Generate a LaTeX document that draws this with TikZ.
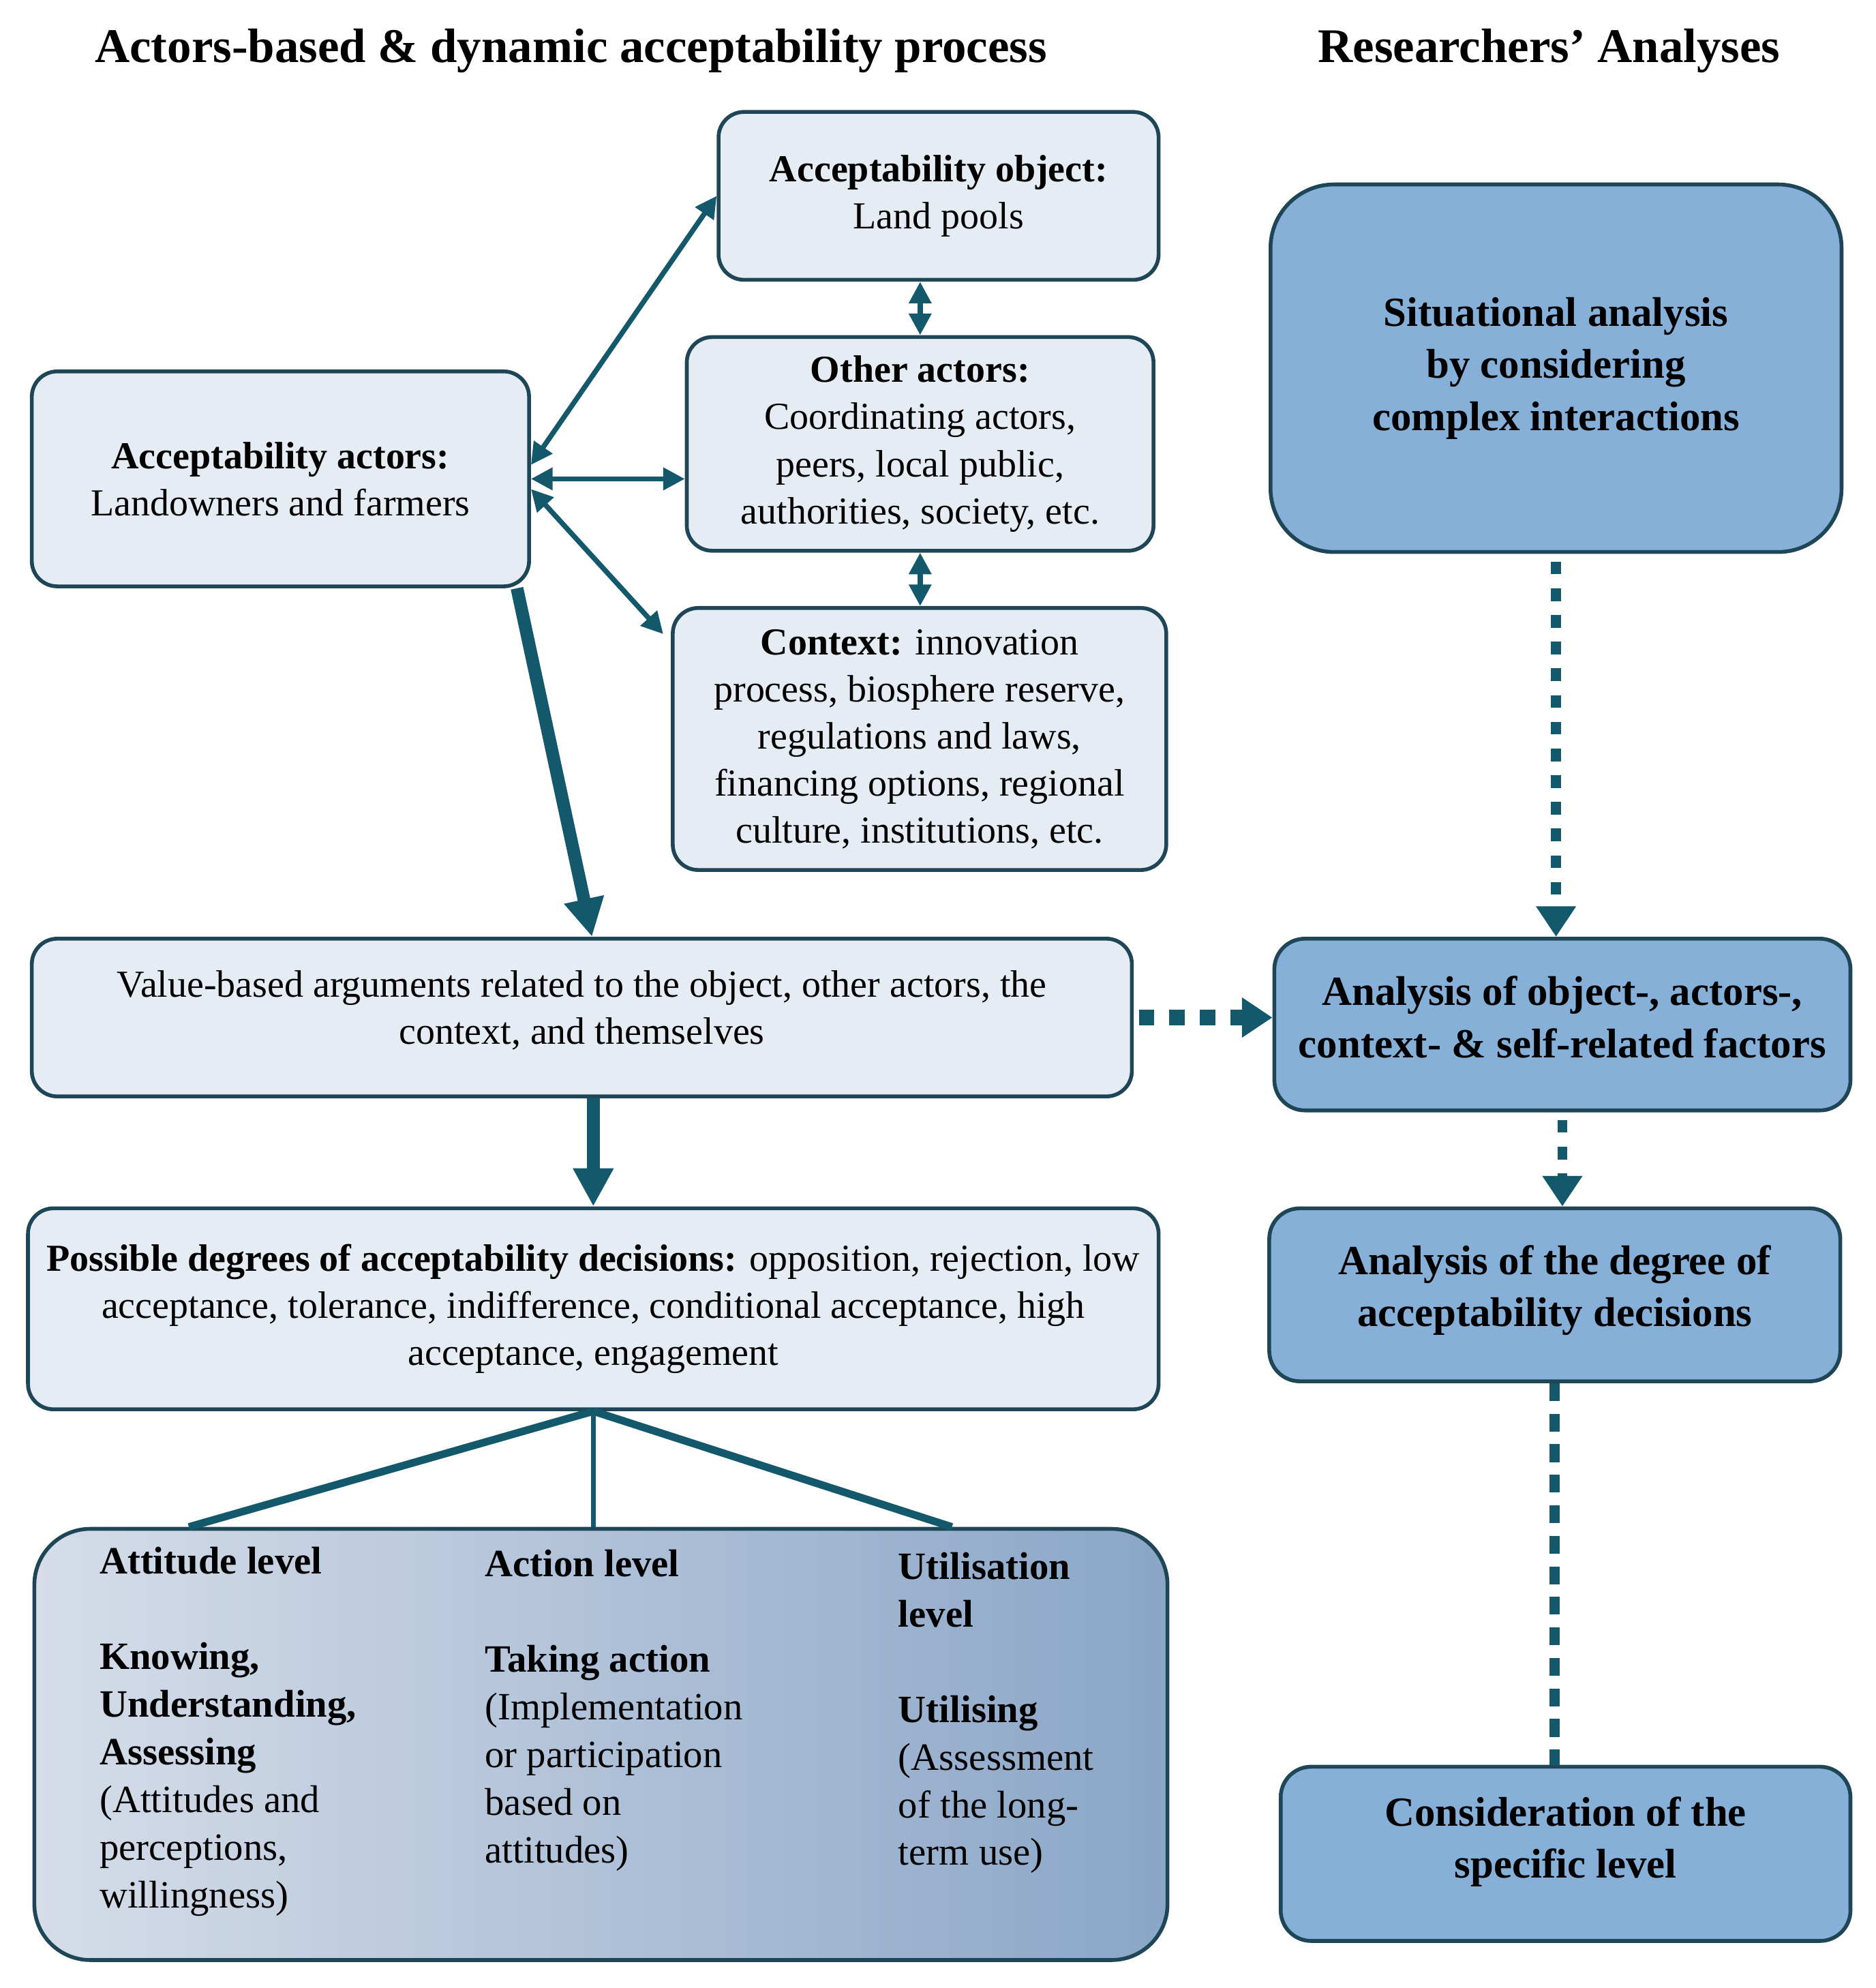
\documentclass[tikz,border=0pt]{standalone}
\usepackage{fontspec}
\setmainfont{Liberation Serif}
\usetikzlibrary{arrows.meta}
\definecolor{boxline}{HTML}{1E4656}
\definecolor{arrowteal}{HTML}{14586C}
\definecolor{litefill}{HTML}{E6ECF4}
\definecolor{bluefill}{HTML}{86B0D8}
\definecolor{levleft}{HTML}{D6DDE9}
\definecolor{levright}{HTML}{8AA6C7}
\begin{document}
\begin{tikzpicture}[x=0.5pt, y=-0.5pt]
  \tikzstyle{litebox}=[draw=boxline, line width=1.5pt, fill=litefill,
    rounded corners=10pt, align=center, inner sep=0pt,
    font=\fontsize{15}{18.5}\selectfont]
  \tikzstyle{bluebox}=[draw=boxline, line width=1.5pt, fill=bluefill,
    rounded corners=12pt, align=center, inner sep=0pt,
    font=\fontsize{16.3}{20.5}\selectfont\bfseries]
  \tikzstyle{leveltext}=[anchor=north west, align=left, inner sep=0pt,
    font=\fontsize{15.2}{18.75}\selectfont]
  \tikzstyle{titletext}=[font=\fontsize{19}{22}\selectfont\bfseries]
  \tikzstyle{thinarrow}=[arrowteal, line width=2pt,
    {Triangle[length=8.5pt,width=8.5pt]}-{Triangle[length=8.5pt,width=8.5pt]}]
  \tikzstyle{bigarrow}=[arrowteal, line width=5pt,
    -{Triangle[length=15pt,width=15pt]}]
  \tikzstyle{dotarrow}=[arrowteal, line width=4pt, dash pattern=on 5pt off 5.5pt,
    -{Triangle[length=12pt,width=15pt]}]
  \tikzstyle{branchline}=[arrowteal, line width=3pt]
  \useasboundingbox (0,0) rectangle (1475,1563);
  \node[titletext] (lefttitle) at (449,40) {Actors-based \& dynamic acceptability process};
  \node[titletext] (righttitle) at (1218,40) {Researchers' Analyses};
  \node[litebox, minimum width=173pt, minimum height=66pt] (obj) at (738,154)
    {\textbf{Acceptability object:}\\Land pools};
  \node[litebox, minimum width=183.5pt, minimum height=84pt] (oth) at (723.5,349)
    {\textbf{Other actors:}\\Coordinating actors,\\peers, local public,\\authorities, society, etc.};
  \node[litebox, minimum width=194pt, minimum height=103pt] (ctx) at (723,581)
    {\textbf{Context:} innovation\\process, biosphere reserve,\\regulations and laws,\\financing options, regional\\culture, institutions, etc.};
  \node[litebox, minimum width=195.5pt, minimum height=84.5pt] (act) at (220.5,376.5)
    {\textbf{Acceptability actors:}\\Landowners and farmers};
  \node[litebox, minimum width=432.5pt, minimum height=62pt] (val) at (457.5,800)
    {Value-based arguments related to the object, other actors, the\\context, and themselves\\[-10.5pt]\mbox{}};
  \node[litebox, minimum width=444.5pt, minimum height=79pt] (deg) at (466.5,1029)
    {\textbf{Possible degrees of acceptability decisions:} opposition, rejection, low\\acceptance, tolerance, indifference, conditional acceptance, high\\acceptance, engagement};
  \node[litebox, minimum width=445.5pt, minimum height=169.5pt, rounded corners=22pt,
    left color=levleft, right color=levright] (lev) at (472.5,1371.5) {};
  \node[leveltext] (attitude) at (78,1216)
    {\textbf{Attitude level}\\[18.75pt]\textbf{Knowing,}\\\textbf{Understanding,}\\\textbf{Assessing}\\(Attitudes and\\perceptions,\\willingness)};
  \node[leveltext] (action) at (381,1218)
    {\textbf{Action level}\\[18.75pt]\textbf{Taking action}\\(Implementation\\or participation\\based on\\attitudes)};
  \node[leveltext] (utilisation) at (706,1220)
    {\textbf{Utilisation}\\\textbf{level}\\[18.75pt]\textbf{Utilising}\\(Assessment\\of the long-\\term use)};
  \node[bluebox, minimum width=224.5pt, minimum height=144.5pt, rounded corners=25pt] (sit) at (1223.5,289.5)
    {Situational analysis\\by considering\\complex interactions};
  \node[bluebox, minimum width=226.5pt, minimum height=67.5pt] (ana) at (1228.5,805.5)
    {Analysis of object-, actors-,\\context- \& self-related factors\\[-14.5pt]\mbox{}};
  \node[bluebox, minimum width=224.5pt, minimum height=68pt] (adg) at (1222.5,1018)
    {Analysis of the degree of\\acceptability decisions\\[-13.5pt]\mbox{}};
  \node[bluebox, minimum width=224pt, minimum height=68.5pt] (con) at (1231,1457.5)
    {Consideration of the\\specific level\\[-7.5pt]\mbox{}};
  \draw[thinarrow] ([yshift=5.5pt]act.east) -- (obj.west);
  \draw[thinarrow] (act.east) -- (act.east -| oth.west);
  \draw[thinarrow] ([yshift=-4pt]act.east) -- ([shift={(-3pt,-11pt)}]ctx.north west);
  \draw[thinarrow] (obj.south -| oth.north) -- (oth.north);
  \draw[thinarrow] (oth.south) -- (oth.south |- ctx.north);
  \draw[bigarrow] ([xshift=-5.5pt]act.south east) -- ([xshift=4pt]val.north);
  \draw[bigarrow] (val.south -| deg.north) -- (deg.north);
  \coordinate (levA) at ([xshift=61.5pt]lev.north west);
  \coordinate (levB) at (deg.south |- lev.north);
  \coordinate (levC) at ([xshift=361.5pt]lev.north west);
  \draw[branchline] (deg.south) -- (levA);
  \draw[branchline, line width=2pt] (deg.south) -- (levB);
  \draw[branchline] (deg.south) -- (levC);
  \draw[dotarrow] ([yshift=-3pt]sit.south) -- (sit.south |- ana.north);
  \draw[dotarrow, line width=6pt, dash pattern=on 6pt off 6pt] ([xshift=2pt]val.east) -- (val.east -| ana.west);
  \draw[dotarrow] ([yshift=-3pt]ana.south) -- (ana.south |- adg.north);
  \draw[dotarrow, -, dash pattern=on 7pt off 5pt] (adg.south) -- (adg.south |- con.north);
\end{tikzpicture}
\end{document}
